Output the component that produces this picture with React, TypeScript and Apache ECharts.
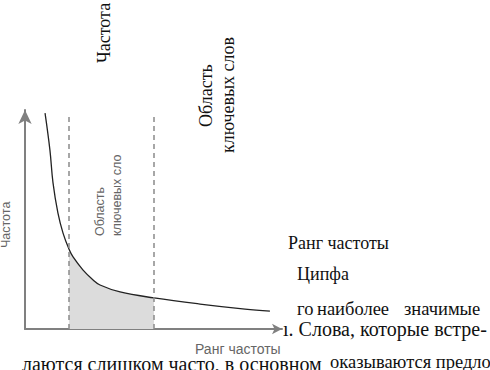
import React, { useEffect, useRef } from "react";
import * as echarts from "echarts";

// Zipf curve: frequency vs. rank (arbitrary units)
const rank = [7.8, 9.7, 10.9, 12.8, 14.8, 17.1, 18.7, 22.6, 26.5, 29.2, 37.0, 50.2, 68.1, 85.6, 95.3];
const freq = [98.6, 81.7, 66.7, 53.0, 43.8, 36.5, 32.9, 26.9, 22.4, 20.1, 16.9, 14.2, 11.4, 9.1, 8.2];
// Keyword region bounds (dashed lines)
const keywordBounds = [17.1, 50.2];
const dashTop = 98.6;

const axisTitleY = "Частота";
const axisTitleX = "Ранг частоты";
const regionLines = ["Область", "ключевых сло"];

const SERIF = "'Liberation Serif', 'DejaVu Serif', serif";
const SANS = "'Liberation Sans', Arial, sans-serif";

export default function App() {
  const ref = useRef<HTMLDivElement>(null);
  useEffect(() => {
    if (!ref.current) return;
    const chart = echarts.init(ref.current, null, { renderer: "svg" });
    const curve = rank.map((r, i) => [r, freq[i]]);
    const shaded = curve.filter((p) => p[0] >= keywordBounds[0] && p[0] <= keywordBounds[1]);
    const grayText = (text: string, x: number, y: number, rot: boolean, size = 12) => ({
      type: "text",
      x,
      y,
      rotation: rot ? Math.PI / 2 : 0,
      style: { text, fill: "#666", font: `${size}px ${SANS}`, textAlign: "left", textVerticalAlign: "middle" },
      z: 10,
    });
    const serifText = (text: string, x: number, y: number, rot: boolean, size = 17) => ({
      type: "text",
      x,
      y,
      rotation: rot ? Math.PI / 2 : 0,
      style: { text, fill: "#111", font: `${size}px ${SERIF}`, textAlign: "left", textVerticalAlign: "middle" },
      z: 10,
    });
    chart.setOption({
      animation: false,
      backgroundColor: "#fff",
      grid: { left: 25, top: 110, width: 257, height: 219, containLabel: false },
      xAxis: {
        type: "value",
        min: 0,
        max: 100,
        axisLine: { show: true, lineStyle: { color: "#808080", width: 2 }, symbol: ["none", "arrow"], symbolSize: [8, 10] },
        axisTick: { show: false },
        axisLabel: { show: false },
        splitLine: { show: false },
      },
      yAxis: {
        type: "value",
        min: 0,
        max: 100,
        axisLine: { show: true, lineStyle: { color: "#808080", width: 2 }, symbol: ["none", "arrow"], symbolSize: [10, 14] },
        axisTick: { show: false },
        axisLabel: { show: false },
        splitLine: { show: false },
      },
      series: [
        {
          type: "line",
          data: shaded,
          smooth: 0.4,
          showSymbol: false,
          lineStyle: { width: 0 },
          areaStyle: { color: "#dcdcdc", opacity: 1 },
          z: 1,
          silent: true,
          markLine: {
            silent: true,
            symbol: ["none", "none"],
            label: { show: false },
            lineStyle: { color: "#8a8a8a", width: 1.5, type: [5, 4] },
            data: keywordBounds.map((b) => [{ coord: [b, 0] }, { coord: [b, dashTop] }]),
          },
        },
        {
          type: "line",
          data: curve,
          smooth: 0.4,
          showSymbol: false,
          lineStyle: { color: "#222", width: 1.3 },
          z: 3,
          silent: true,
        },
      ],
      graphic: [
        grayText(axisTitleY, 6, 248, true, 12.5),
        grayText(regionLines[0], 100, 236, true, 12.5),
        grayText(regionLines[1], 117, 236, true, 12.5),
        grayText(axisTitleX, 195, 349, false, 14),
        serifText("Частота", 104, 63, true, 18),
        serifText("Область", 206, 127, true, 18),
        serifText("ключевых слов", 228, 153, true, 18),
        serifText("Ранг частоты", 288, 243, false, 18),
        serifText("Ципфа", 297, 274, false, 18),
        serifText("го", 297, 309, false, 18.5),
        serifText("наиболее", 317, 309, false, 18.5),
        serifText("значимые", 404, 309, false, 18.5),
        serifText("ı. Слова, которые встре-", 283, 329, false, 20),
        serifText("лаются слишком часто, в основном", 22, 364, false, 20),
        serifText("оказываются предло-", 330, 362, false, 18.5),
      ],
    });
    return () => chart.dispose();
  }, []);
  return (
    <div
      ref={ref}
      style={{ position: "fixed", left: 0, top: 0, width: 490, height: 370, background: "#fff" }}
    />
  );
}
